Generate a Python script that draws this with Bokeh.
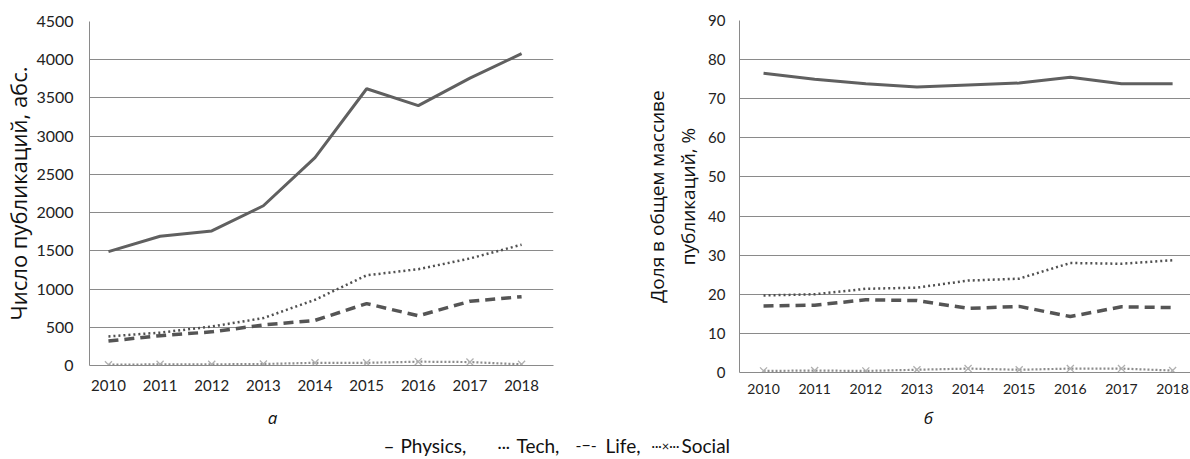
from bokeh.plotting import figure
from bokeh.layouts import column, row
from bokeh.models import FixedTicker
from bokeh.core.properties import value
from bokeh.embed import file_html
from bokeh.resources import INLINE

years = [2010, 2011, 2012, 2013, 2014, 2015, 2016, 2017, 2018]
names = ["Physics", "Tech", "Life", "Social"]
symbols = ["–", "···", "-−-", "···×···"]
panel_labels = ["а", "б"]

abs_physics = [1490, 1690, 1760, 2090, 2720, 3620, 3400, 3760, 4080]
abs_tech = [380, 430, 510, 620, 860, 1180, 1260, 1400, 1580]
abs_life = [320, 390, 440, 530, 590, 810, 650, 840, 900]
abs_social = [10, 15, 15, 20, 35, 35, 50, 45, 15]

pct_physics = [76.5, 75.0, 73.8, 73.0, 73.5, 74.0, 75.5, 73.8, 73.8]
pct_tech = [19.7, 20.0, 21.4, 21.7, 23.5, 24.0, 28.0, 27.8, 28.7]
pct_life = [17.0, 17.2, 18.6, 18.4, 16.4, 16.9, 14.3, 16.8, 16.6]
pct_social = [0.4, 0.5, 0.4, 0.7, 1.0, 0.7, 1.0, 1.0, 0.5]

y_ticks_abs = [0, 500, 1000, 1500, 2000, 2500, 3000, 3500, 4000, 4500]
y_ticks_pct = [0, 10, 20, 30, 40, 50, 60, 70, 80, 90]

TICK_FONT = "Lato"
LINE_COL = "#606060"
GRID_COL = "#8a8a8a"


def style(p, yticks, tick_size, ylabel, ylabel_size):
    p.outline_line_color = None
    p.xgrid.grid_line_color = None
    p.ygrid.grid_line_color = GRID_COL
    p.ygrid.grid_line_width = 1
    p.xaxis.ticker = FixedTicker(ticks=years)
    p.yaxis.ticker = FixedTicker(ticks=yticks)
    for ax in (p.xaxis[0], p.yaxis[0]):
        ax.major_tick_line_color = None
        ax.minor_tick_line_color = None
        ax.major_tick_out = 0
        ax.major_tick_in = 0
        ax.axis_line_color = GRID_COL
        ax.major_label_text_font = TICK_FONT
        ax.major_label_text_color = "#222222"
    p.yaxis.major_label_text_font_size = tick_size[1]
    p.xaxis.major_label_text_font_size = tick_size[0]
    p.yaxis.axis_label = ylabel
    p.yaxis.axis_label_text_font = "Open Sans"
    p.yaxis.axis_label_text_font_style = "normal"
    p.yaxis.axis_label_text_font_size = ylabel_size
    p.yaxis.axis_label_text_color = "#111111"


def draw(p, phys, tech, life, soc):
    p.line(years, soc, line_color="#8c8c8c", line_width=2.2, line_dash="2 2")
    p.scatter(years, soc, marker="x", size=10, line_color="#b0b0b0", line_width=1.3)
    p.line(years, life, line_color="#555555", line_width=3.5, line_dash="10 6")
    p.line(years, tech, line_color="#505050", line_width=2.5, line_dash="2 3")
    p.line(years, phys, line_color=LINE_COL, line_width=3)


ROW_H = 405

# left panel: frame x 88..553, y 21..365
p1 = figure(width=610, height=ROW_H, x_range=(2009.633, 2018.618), y_range=(0, 4500),
            output_backend="svg", toolbar_location=None,
            min_border_left=88, min_border_right=57, min_border_top=21, min_border_bottom=ROW_H - 365)
style(p1, y_ticks_abs, ("15px", "16px"), "Число публикаций, абс.", "22px")
p1.yaxis.major_label_standoff = 16
p1.yaxis.axis_label_standoff = 0
p1.xaxis.major_label_standoff = 14
draw(p1, abs_physics, abs_tech, abs_life, abs_social)

# right panel: frame x 739..1190, y 20..372
p2 = figure(width=580, height=ROW_H, x_range=(2009.53, 2018.35), y_range=(0, 90),
            output_backend="svg", toolbar_location=None,
            min_border_left=129, min_border_right=0, min_border_top=20, min_border_bottom=ROW_H - 372)
style(p2, y_ticks_pct, ("14px", "15px"), "Доля в общем массиве\nпубликаций, %", "19px")
p2.yaxis.major_label_standoff = 14
p2.yaxis.axis_label_standoff = 4
p2.xaxis.major_label_standoff = 11
draw(p2, pct_physics, pct_tech, pct_life, pct_social)

# bottom strip: panel letters and legend
H3 = 459 - ROW_H
p3 = figure(width=1190, height=H3, x_range=(0, 1190), y_range=(0, H3),
            output_backend="svg", toolbar_location=None, min_border=0)
p3.axis.visible = False
p3.grid.visible = False
p3.outline_line_color = None
p3.text(x=[272, 928], y=[H3 - 12, H3 - 12], text=panel_labels, text_align="center",
        text_baseline="middle", text_font=value("Open Sans"), text_font_style="italic",
        text_font_size="17px", text_color="#111111")

sym_x = [383, 497, 575, 651]
sym_size = ["19px", "16px", "16px", "13px"]
name_x = [400, 516, 605, 681]
name_txt = [f"{n}," if i < len(names) - 1 else n for i, n in enumerate(names)]
p3.text(x=sym_x, y=[14] * len(symbols), text=symbols, text_align="left", text_baseline="middle",
        text_font=value("Lato"), text_font_size=sym_size, text_color="#111111")
p3.text(x=name_x, y=[14] * len(names), text=name_txt, text_align="left", text_baseline="middle",
        text_font=value("Lato"), text_font_size="19px", text_color="#111111")

# wrap each panel in its own column so their frames are not aligned to each other
layout = column(row(column(p1), column(p2)), p3)
open("out.html", "w").write(file_html(layout, INLINE))
